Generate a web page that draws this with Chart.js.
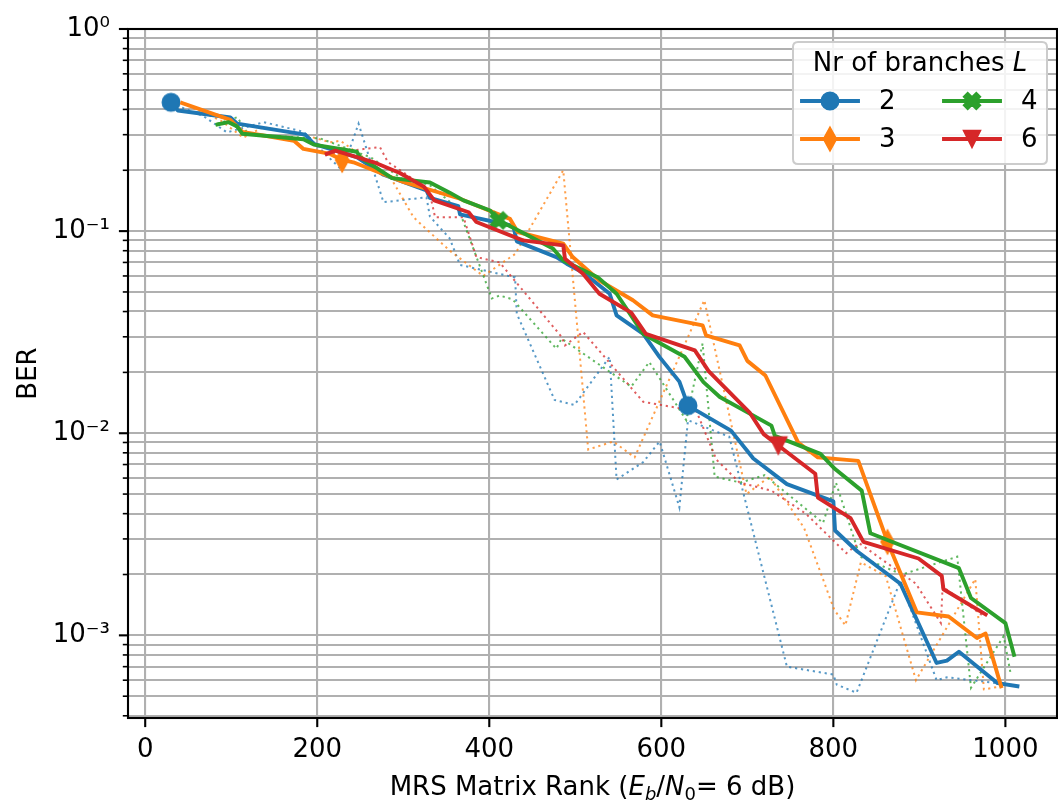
<!DOCTYPE html>
<html><head><meta charset="utf-8">
<script src="https://cdn.jsdelivr.net/npm/chart.js@4.4.1/dist/chart.umd.min.js"></script>
<style>
html,body{margin:0;padding:0;background:#fff;}
#wrap{position:relative;width:1058px;height:804px;overflow:hidden;}
#c{position:absolute;left:0;top:0;}
#xtitle{position:absolute;left:128px;width:929px;top:771px;text-align:center;font-family:'DejaVu Sans',sans-serif;font-size:26px;line-height:30px;color:#000;white-space:nowrap;}
#xtitle sub{font-size:18px;vertical-align:-5px;line-height:0;}
</style></head><body>
<div id="wrap"><canvas id="c" width="1058" height="804"></canvas>
<div id="xtitle">MRS Matrix Rank (<i>E</i><sub><i>b</i></sub>/<i>N</i><sub>0</sub>= 6 dB)</div></div>
<script>
// ---- data ----
const blueRank = [30,38,99,107,186,196,246,277,327,331,364,366,428,432,478,490,511,540,548,579,598,621,631,681,707,746,800,802,828,878,920,932,946,991,1014];
const blueBER = [0.434,0.395,0.365,0.34,0.30,0.27,0.232,0.19,0.159,0.146,0.133,0.121,0.106,0.089,0.0744,0.069,0.0616,0.049,0.0383,0.031,0.0238,0.018,0.0137,0.0103,0.0075,0.0056,0.0046,0.0033,0.0026,0.0018,0.00073,0.00075,0.00083,0.00058,0.00056];
const blueRankRaw = [30,68,95,138,184,211,229,248,277,327,331,354,366,430,432,476,499,540,548,579,598,621,631,679,746,800,804,827,878,920,932,990,1014];
const blueBERRaw = [0.43,0.37,0.308,0.346,0.31,0.237,0.20,0.34,0.139,0.147,0.118,0.092,0.068,0.059,0.039,0.0146,0.0138,0.0239,0.0059,0.0072,0.0091,0.0043,0.0116,0.0096,0.0007,0.00064,0.00057,0.00052,0.00186,0.0006,0.00062,0.00058,0.00056];

const orangeRank = [43,99,113,173,184,215,229,242,300,365,424,433,486,497,528,567,590,648,652,691,700,721,759,782,829,863,897,934,967,977,995];
const orangeBER = [0.43,0.355,0.31,0.28,0.255,0.241,0.225,0.219,0.175,0.145,0.115,0.099,0.0867,0.0744,0.057,0.0455,0.0383,0.0342,0.0305,0.0272,0.0228,0.0193,0.009,0.0076,0.0073,0.0029,0.0013,0.00124,0.00097,0.00102,0.00056];
const orangeRankRaw = [43,88,114,137,184,215,227,285,312,354,393,430,486,515,544,569,650,699,726,766,801,814,832,861,896,965,975,995];
const orangeBERRaw = [0.43,0.352,0.29,0.327,0.30,0.275,0.28,0.185,0.117,0.080,0.060,0.077,0.20,0.0083,0.0091,0.0076,0.0455,0.0050,0.0061,0.0034,0.00134,0.00112,0.0023,0.00196,0.0006,0.0019,0.00054,0.00056];

const greenRank = [84,97,107,113,184,196,246,250,287,331,354,370,401,411,430,474,486,526,548,579,627,649,668,728,732,785,802,833,843,946,960,1000,1010];
const greenBER = [0.337,0.346,0.329,0.303,0.285,0.268,0.247,0.232,0.183,0.174,0.155,0.142,0.1265,0.113,0.1028,0.082,0.0716,0.0592,0.049,0.031,0.0239,0.0179,0.0151,0.0109,0.0097,0.0079,0.00665,0.0052,0.0032,0.00215,0.00153,0.00115,0.0008];
const greenRankRaw = [84,107,120,204,262,300,330,362,368,403,412,427,478,484,565,586,629,648,662,692,720,788,803,831,880,944,960,998,1006];
const greenBERRaw = [0.34,0.366,0.30,0.287,0.232,0.18,0.17,0.131,0.117,0.0464,0.048,0.046,0.0262,0.0294,0.017,0.0225,0.0116,0.0278,0.0061,0.0057,0.0062,0.0036,0.0057,0.00245,0.002,0.00245,0.00055,0.00099,0.00065];

const redRank = [211,221,266,296,324,336,376,385,439,486,488,509,528,565,582,639,655,703,719,736,779,782,820,835,899,926,928,977];
const redBER = [0.241,0.25,0.219,0.194,0.166,0.142,0.124,0.111,0.09,0.085,0.073,0.0616,0.049,0.0395,0.031,0.0257,0.0203,0.0126,0.0099,0.0087,0.0063,0.0048,0.0038,0.0029,0.0024,0.00197,0.00169,0.00127];
const redRankRaw = [211,254,273,282,330,337,370,385,412,484,488,509,579,621,641,664,691,728,768,815,830,896,925,927,973];
const redBERRaw = [0.24,0.255,0.26,0.22,0.16,0.117,0.117,0.0744,0.070,0.030,0.0272,0.0317,0.0143,0.0133,0.0128,0.0074,0.0057,0.0052,0.004,0.00255,0.00286,0.0018,0.00115,0.00174,0.00126];

// ranks at which a marker is shown on each solid curve
const blueMarkRanks = [30,631];
const orangeMarkRanks = [229,863];
const greenMarkRanks = [411];
const redMarkRanks = [736];

const branchLabels = ['2','3','4','6'];
const xTickValues = [0,200,400,600,800,1000];
const xMin = -20, xMax = 1060, yMin = 3.9e-4, yMax = 1;
const legendTitleText = 'Nr of branches ';
const legendTitleItalic = 'L';
const yTitleText = 'BER';

// ---- styles ----
const COL = {blue:'#1f77b4', orange:'#ff7f0e', green:'#2ca02c', red:'#d62728'};
const FONT = "'DejaVu Sans', sans-serif";
const FS = 26;
Chart.defaults.font.family = FONT;
Chart.defaults.color = '#000';

function rgba(hex, a){const n=parseInt(hex.slice(1),16);return `rgba(${n>>16&255},${n>>8&255},${n&255},${a})`;}

function makeMarker(kind, color){
  const cv=document.createElement('canvas');
  let w=22,h=22;
  if(kind==='diamond'){w=16;h=28;}
  cv.width=w;cv.height=h;
  const c=cv.getContext('2d');
  c.fillStyle=color;c.strokeStyle=color;c.lineWidth=1.4;c.lineJoin='miter';
  const cx=w/2, cy=h/2;
  c.beginPath();
  if(kind==='circle'){c.arc(cx,cy,8.8,0,Math.PI*2);}
  else if(kind==='diamond'){c.moveTo(cx,cy-12);c.lineTo(cx+6.6,cy);c.lineTo(cx,cy+12);c.lineTo(cx-6.6,cy);c.closePath();}
  else if(kind==='x'){
    const p=[[-1,-2],[0,-1],[1,-2],[2,-1],[1,0],[2,1],[1,2],[0,1],[-1,2],[-2,1],[-1,0],[-2,-1]];
    const s=8.6/2;
    p.forEach((q,i)=>{const X=cx+q[0]*s, Y=cy+q[1]*s; if(i===0)c.moveTo(X,Y); else c.lineTo(X,Y);});
    c.closePath();
  }
  else if(kind==='tridown'){c.moveTo(cx-8.6,cy-8.6);c.lineTo(cx+8.6,cy-8.6);c.lineTo(cx,cy+8.6);c.closePath();}
  c.fill();c.stroke();
  return cv;
}
const MK = {
  blue: makeMarker('circle',COL.blue),
  orange: makeMarker('diamond',COL.orange),
  green: makeMarker('x',COL.green),
  red: makeMarker('tridown',COL.red)
};

function pts(xs,ys){return xs.map((x,i)=>({x:x,y:ys[i]}));}
function solid(label,xs,ys,color,marker,markRanks,order){
  return {label, data:pts(xs,ys), borderColor:color, backgroundColor:color,
    borderWidth:3.9, borderJoinStyle:'round', borderCapStyle:'square', tension:0,
    pointStyle:marker, pointRadius:ctx=>markRanks.includes(xs[ctx.dataIndex])?9:0,
    pointHoverRadius:0, pointBorderWidth:0, order};
}
function raw(xs,ys,color,order){
  return {label:'', data:pts(xs,ys), borderColor:rgba(color,0.75), borderWidth:2.0,
    borderDash:[2.2,3.8], borderCapStyle:'butt', pointRadius:0, pointHoverRadius:0, tension:0, order};
}

const datasets = [
  raw(blueRankRaw,blueBERRaw,COL.blue,10),
  raw(orangeRankRaw,orangeBERRaw,COL.orange,9),
  raw(greenRankRaw,greenBERRaw,COL.green,8),
  raw(redRankRaw,redBERRaw,COL.red,7),
  solid(branchLabels[0],blueRank,blueBER,COL.blue,MK.blue,blueMarkRanks,4),
  solid(branchLabels[1],orangeRank,orangeBER,COL.orange,MK.orange,orangeMarkRanks,3),
  solid(branchLabels[2],greenRank,greenBER,COL.green,MK.green,greenMarkRanks,2),
  solid(branchLabels[3],redRank,redBER,COL.red,MK.red,redMarkRanks,1)
];

// log ticks: 1..9 x 10^k inside range
const yTickValues=[];
for(let e=-4;e<=0;e++){for(let m=1;m<=9;m++){const v=m*Math.pow(10,e); if(v>=yMin*0.999 && v<=yMax*1.0001) yTickValues.push(v);}}
const isMajor=v=>Math.abs(Math.log10(v)-Math.round(Math.log10(v)))<1e-9;
const SUP={'-':'\u207B','0':'\u2070','1':'\u00B9','2':'\u00B2','3':'\u00B3','4':'\u2074'};
const supText=s=>s.split('').map(ch=>SUP[ch]).join('');
const yLabel=v=>isMajor(v)?'10'+supText(String(Math.round(Math.log10(v)))):'';

const axesDeco={
  id:'axesDeco',
  afterDatasetsDraw(chart){
    const {ctx,chartArea:a,scales:{x,y}}=chart;
    ctx.save();
    ctx.strokeStyle='#000';
    y.ticks.forEach(t=>{
      const py=y.getPixelForValue(t.value); const mj=isMajor(t.value);
      ctx.lineWidth=mj?2.1:1.6; const L=mj?9.1:5.2;
      ctx.beginPath();ctx.moveTo(a.left-L,py);ctx.lineTo(a.left,py);ctx.stroke();
    });
    x.ticks.forEach(t=>{
      const px=x.getPixelForValue(t.value);
      ctx.lineWidth=2.1;
      ctx.beginPath();ctx.moveTo(px,a.bottom);ctx.lineTo(px,a.bottom+9.1);ctx.stroke();
    });
    ctx.lineWidth=2.1;
    ctx.strokeRect(a.left,a.top,a.right-a.left,a.bottom-a.top);
    ctx.restore();
  }
};

const mplLegend={
  id:'mplLegend',
  afterDraw(chart){
    const {ctx,chartArea:a}=chart;
    const bx=a.right-10, by=a.top+13, bw=254, bh=122, r=5;
    const x0=bx-bw;
    ctx.save();
    ctx.beginPath();
    ctx.moveTo(x0+r,by);ctx.lineTo(bx-r,by);ctx.quadraticCurveTo(bx,by,bx,by+r);
    ctx.lineTo(bx,by+bh-r);ctx.quadraticCurveTo(bx,by+bh,bx-r,by+bh);
    ctx.lineTo(x0+r,by+bh);ctx.quadraticCurveTo(x0,by+bh,x0,by+bh-r);
    ctx.lineTo(x0,by+r);ctx.quadraticCurveTo(x0,by,x0+r,by);ctx.closePath();
    ctx.fillStyle='rgba(255,255,255,0.85)';ctx.fill();
    ctx.strokeStyle='#cccccc';ctx.lineWidth=2;ctx.stroke();
    // title
    ctx.fillStyle='#000';ctx.textBaseline='alphabetic';ctx.textAlign='left';
    const fN=FS+'px '+FONT, fI='italic '+FS+'px '+FONT;
    ctx.font=fN; const w1=ctx.measureText(legendTitleText).width;
    ctx.font=fI; const w2=ctx.measureText(legendTitleItalic).width;
    const tx=x0+bw/2-(w1+w2)/2, ty=by+29;
    ctx.font=fN; ctx.fillText(legendTitleText,tx,ty);
    ctx.font=fI; ctx.fillText(legendTitleItalic,tx+w1,ty);
    // entries (column-major like matplotlib)
    const entries=[[COL.blue,MK.blue,branchLabels[0]],[COL.orange,MK.orange,branchLabels[1]],[COL.green,MK.green,branchLabels[2]],[COL.red,MK.red,branchLabels[3]]];
    entries.forEach((en,i)=>{
      const col=Math.floor(i/2), row=i%2;
      const lx=x0+9+col*142, ly=by+59+row*38;
      ctx.strokeStyle=en[0];ctx.lineWidth=3.9;ctx.lineCap='square';
      ctx.beginPath();ctx.moveTo(lx,ly);ctx.lineTo(lx+56,ly);ctx.stroke();
      const m=en[1]; ctx.drawImage(m,lx+28-m.width/2,ly-m.height/2);
      ctx.fillStyle='#000';ctx.font=fN;ctx.textBaseline='middle';
      ctx.fillText(en[2],lx+77,ly+1);
    });
    ctx.restore();
  }
};

new Chart(document.getElementById('c'),{
  type:'line',
  data:{datasets},
  plugins:[axesDeco,mplLegend],
  options:{
    responsive:false, animation:false, devicePixelRatio:1, events:[],
    layout:{autoPadding:false, padding:{left:0,right:1,top:29,bottom:0}},
    plugins:{legend:{display:false},tooltip:{enabled:false}},
    scales:{
      x:{type:'linear',min:xMin,max:xMax,
        afterBuildTicks:s=>{s.ticks=xTickValues.map(v=>({value:v}));},
        afterFit:s=>{s.height=86;s.paddingLeft=0;s.paddingRight=0;},
        ticks:{autoSkip:false,maxRotation:0,padding:17,font:{size:FS},color:'#000',callback:v=>String(v)},
        grid:{color:'#b0b0b0',lineWidth:2.1,drawTicks:false},
        border:{display:false}
      },
      y:{type:'logarithmic',min:yMin,max:yMax,
        afterBuildTicks:s=>{s.ticks=yTickValues.map(v=>({value:v}));},
        afterFit:s=>{s.width=128;s.paddingTop=0;s.paddingBottom=0;},
        ticks:{autoSkip:false,padding:18,font:{size:FS},color:'#000',callback:v=>yLabel(v)},
        grid:{color:'#b0b0b0',lineWidth:2.1,drawTicks:false},
        border:{display:false},
        title:{display:true,text:yTitleText,font:{size:FS},color:'#000',padding:{top:14,bottom:0}}
      }
    }
  }
});
</script></body></html>
